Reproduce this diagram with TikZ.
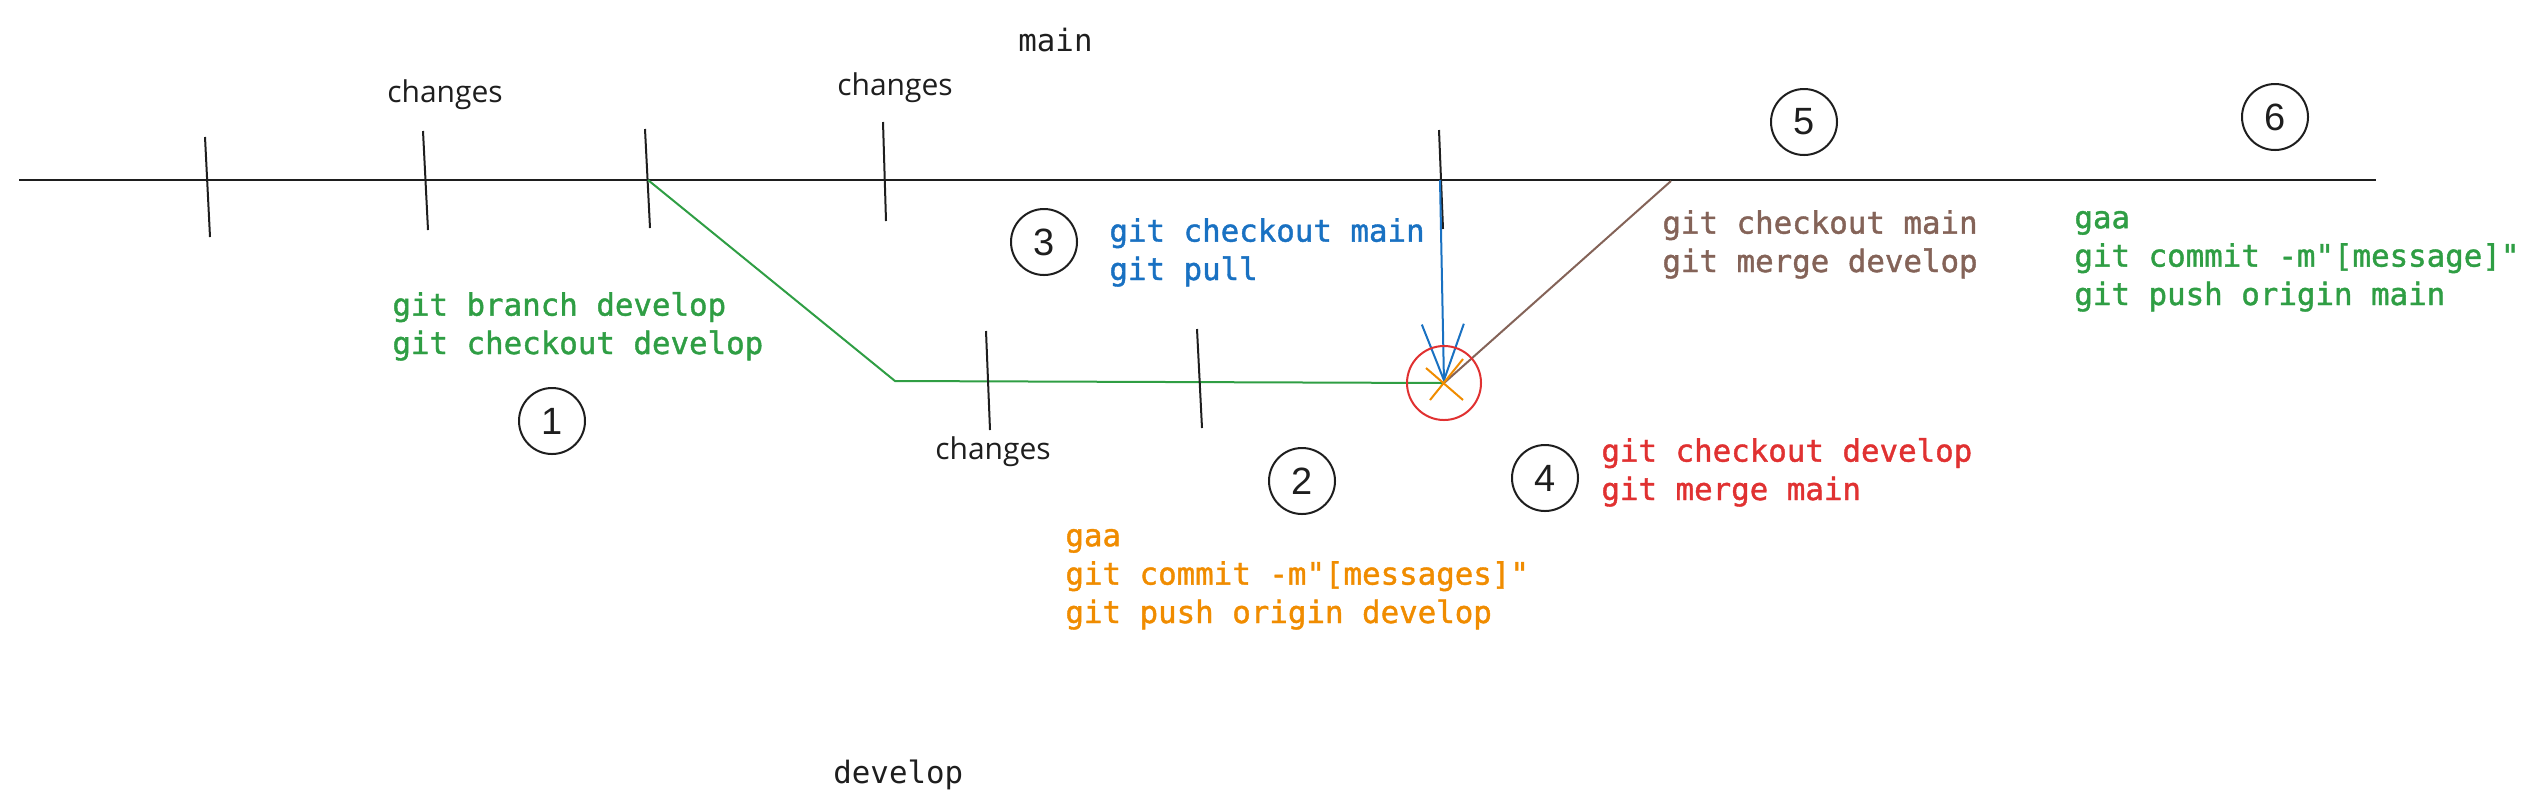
\documentclass[tikz,border=0pt]{standalone}
\usepackage{fontspec}
\setmonofont{DejaVu Sans Mono}
\newfontfamily\cmdfont[FakeBold=1.3]{DejaVu Sans Mono}
\newfontfamily\handfont{Open Sans}
\newfontfamily\numfont{Liberation Sans}
\usetikzlibrary{arrows.meta}
\definecolor{ink}{HTML}{1E1E1E}
\definecolor{cgreen}{HTML}{2F9E44}
\definecolor{cblue}{HTML}{1971C2}
\definecolor{cbrown}{HTML}{846358}
\definecolor{cred}{HTML}{E03131}
\definecolor{corange}{HTML}{F08C00}
\tikzset{
  cmd/.style={anchor=base west, inner sep=0pt, align=left,
    font=\fontsize{15.4}{19.2}\selectfont\cmdfont},
  lbl/.style={inner sep=0pt, font=\fontsize{15.4}{19.5}\selectfont\ttfamily, text=ink},
  hand/.style={inner sep=0pt, font=\fontsize{15}{18}\selectfont\handfont, text=ink},
  numc/.style={draw=ink, circle, line width=1pt, minimum size=33pt, inner sep=0pt,
    font=\fontsize{19}{20}\selectfont\numfont, text=ink},
  tick/.style={draw=ink, line width=1pt},
  branchline/.style={draw=ink, line width=1.1pt}
}
\begin{document}
\begin{tikzpicture}[x=0.5pt,y=-0.5pt]
\useasboundingbox (0,0) rectangle (2543,811);
% main line
\coordinate (mainL) at (19,180);
\coordinate (mainR) at (2376,180);
\coordinate (b0) at (648,180);
\coordinate (b1) at (895,381);
\coordinate (m) at (1444,383);
\coordinate (t5) at (1671,181);
\coordinate (bluetop) at (1440,180);
\draw[branchline] (mainL) -- (mainR);
% ticks on main
\coordinate (k1a) at (205,137); \coordinate (k1b) at (210,237);
\coordinate (k2a) at (423,131); \coordinate (k2b) at (428,230);
\coordinate (k3a) at (645,129); \coordinate (k3b) at (650,228);
\coordinate (k4a) at (883,122); \coordinate (k4b) at (886,221);
\coordinate (k5a) at (1439,130); \coordinate (k5b) at (1443,229);
\draw[tick] (k1a) -- (k1b);
\draw[tick] (k2a) -- (k2b);
\draw[tick] (k3a) -- (k3b);
\draw[tick] (k4a) -- (k4b);
\draw[tick] (k5a) -- (k5b);
% develop branch
\draw[cgreen, line width=1pt] (b0) -- (b1) -- (m);
\coordinate (d1a) at (986,331); \coordinate (d1b) at (990,430);
\coordinate (d2a) at (1197,329); \coordinate (d2b) at (1202,428);
\draw[tick] (d1a) -- (d1b);
\draw[tick] (d2a) -- (d2b);
% merge back to main
\draw[cbrown, line width=1pt] (m) -- (t5);
% blue arrow
\draw[cblue, line width=1pt, -{Straight Barb[length=28pt,width=21pt,line width=1pt]}] (bluetop) -- (m);
% red circle and orange cross
\node[draw=cred, circle, line width=1pt, minimum size=37pt, inner sep=0pt] (redc) at (m) {};
\coordinate (x1a) at (1426,368); \coordinate (x1b) at (1463,400);
\coordinate (x2a) at (1430,400); \coordinate (x2b) at (1463,359);
\draw[corange, line width=1pt] (x1a) -- (x1b);
\draw[corange, line width=1pt] (x2a) -- (x2b);
% labels
\node[lbl, anchor=base west] (mainlbl) at (1018,51) {main};
\node[lbl, anchor=base west] (devlbl) at (833,783) {develop};
\node[hand] (ch1) at (445,95) {changes};
\node[hand] (ch2) at (895,88) {changes};
\node[hand] (ch3) at (993,452) {changes};
% numbered circles
\node[numc] (n1) at (552,421) {1};
\node[numc] (n2) at (1302,481) {2};
\node[numc] (n3) at (1044,242) {3};
\node[numc] (n4) at (1545,478) {4};
\node[numc] (n5) at (1804,122) {5};
\node[numc] (n6) at (2275,117) {6};
% command texts (anchored at the baseline of the last line)
\node[cmd, text=cgreen] (t1) at (392,354) {git branch develop\\git checkout develop};
\node[cmd, text=cblue] (t3) at (1109,280) {git checkout main\\git pull};
\node[cmd, text=cbrown] (t5txt) at (1662,272) {git checkout main\\git merge develop};
\node[cmd, text=cgreen] (t6) at (2074,305) {gaa\\git commit -m"[message]"\\git push origin main};
\node[cmd, text=cred] (t4) at (1601,500) {git checkout develop\\git merge main};
\node[cmd, text=corange] (t2) at (1065,623) {gaa\\git commit -m"[messages]"\\git push origin develop};
\end{tikzpicture}
\end{document}
